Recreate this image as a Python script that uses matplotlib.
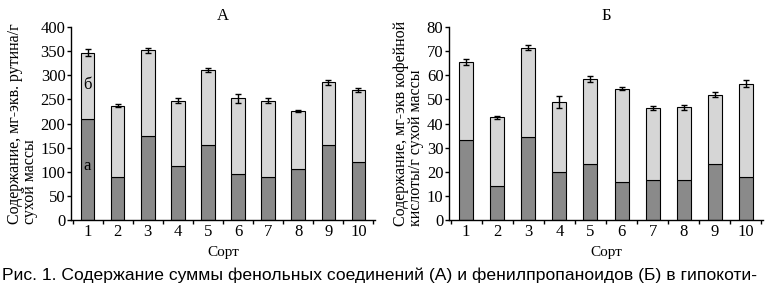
import matplotlib
matplotlib.use("Agg")
import matplotlib.pyplot as plt
import numpy as np
from matplotlib import font_manager

cats = ["1", "2", "3", "4", "5", "6", "7", "8", "9", "10"]
a_low = [210, 89, 174, 112, 155, 96, 89, 105, 155, 120]
a_total = [347, 237, 352, 247, 310, 252, 247, 225, 285, 270]
a_err = [8, 3, 5, 5, 4, 9, 5, 2, 6, 4]
b_low = [33, 14, 34.5, 19.8, 23.2, 15.8, 16.5, 16.5, 23.2, 18]
b_total = [65.5, 42.5, 71.5, 49, 58.5, 54.5, 46.5, 46.7, 52, 56.5]
b_err = [1.2, 0.8, 0.9, 2.5, 1.3, 0.7, 0.9, 1.1, 1.0, 1.5]

serif = "Liberation Serif"
names = {f.name for f in font_manager.fontManager.ttflist}
cap_font = "Liberation Sans Narrow" if "Liberation Sans Narrow" in names else "Liberation Sans"

plt.rcParams["font.family"] = serif
dark = "#8a8a8a"
light = "#d6d6d6"

fig = plt.figure(figsize=(7.68, 2.86), dpi=100)
W, H = 768, 286
axA = fig.add_axes([71 / W, 1 - 220 / H, 304 / W, 193 / H])
axB = fig.add_axes([449 / W, 1 - 220 / H, 314 / W, 193 / H])

def draw(ax, low, total, err, ymax, step, title, ylabel):
    x = np.arange(1, len(cats) + 1)
    upper = [t - l for t, l in zip(total, low)]
    ax.bar(x, low, width=0.45, color=dark, edgecolor="black", linewidth=0.8, zorder=2)
    ax.bar(x, upper, bottom=low, width=0.45, color=light, edgecolor="black", linewidth=0.8, zorder=2)
    ax.errorbar(x, total, yerr=err, fmt="none", ecolor="black", elinewidth=1.0,
                capsize=2.5, capthick=1.0, zorder=3)
    ax.set_xlim(0.45, len(cats) + 0.55)
    ax.set_ylim(0, ymax)
    ax.set_yticks(np.arange(0, ymax + 1, step))
    ax.set_xticks(x)
    ax.set_xticklabels(cats)
    ax.set_xticks(np.arange(0.5, len(cats) + 1, 1), minor=True)
    ax.tick_params(axis="x", which="major", length=0, labelsize=12, pad=3)
    ax.tick_params(axis="x", which="minor", direction="out", length=3, width=1)
    ax.tick_params(axis="y", direction="out", length=3, width=1, labelsize=12, pad=1)
    for s in ["top", "right"]:
        ax.spines[s].set_visible(False)
    ax.spines["left"].set_linewidth(1)
    ax.spines["bottom"].set_linewidth(1)
    ax.set_title(title, fontsize=12, pad=5)
    ax.set_xlabel("Сорт", fontsize=11, labelpad=4)
    ax.set_ylabel(ylabel, fontsize=11.5, multialignment="left", labelpad=2, linespacing=0.9)

draw(axA, a_low, a_total, a_err, 400, 50, "А", "Содержание, мг-экв. рутина/г\nсухой массы")
draw(axB, b_low, b_total, b_err, 80, 10, "Б", "Содержание, мг-экв кофейной\nкислоты/г сухой массы")

axA.text(1, 280, "б", ha="center", va="center", fontsize=12)
axA.text(1, 112, "а", ha="center", va="center", fontsize=12)

fig.text(0.5 * (3 + 755) / W, 1 - 275 / H,
         "Рис. 1. Содержание суммы фенольных соединений (А) и фенилпропаноидов (Б) в гипокоти-",
         ha="center", va="center", fontsize=12.6, family=cap_font)

fig.savefig("out.png", dpi=100)
